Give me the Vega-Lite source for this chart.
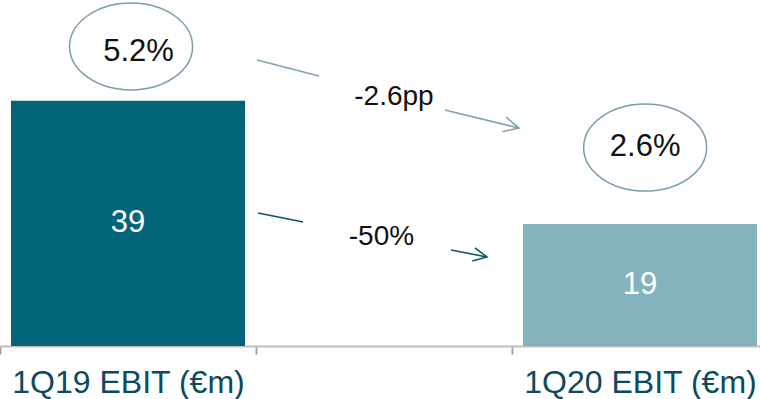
{
  "$schema": "https://vega.github.io/schema/vega-lite/v6.json",
  "width": 768,
  "height": 346,
  "autosize": {"type": "none"},
  "padding": {"left": 0, "top": 0, "right": 0, "bottom": 53},
  "background": "white",
  "config": {"view": {"stroke": null}, "font": "Liberation Sans"},
  "datasets": {
    "bars": [
      {"period": "1Q19 EBIT (€m)", "value": 39},
      {"period": "1Q20 EBIT (€m)", "value": 19.4}
    ],
    "segments": [
      {"arrow": "margin", "part": "start", "xa": 0.504, "ya": 45.46, "xb": 0.746, "yb": 42.92},
      {"arrow": "margin", "part": "end", "xa": 1.238, "ya": 37.51, "xb": 1.527, "yb": 34.65},
      {"arrow": "ebit", "part": "start", "xa": 0.508, "ya": 21.14, "xb": 0.684, "yb": 19.70},
      {"arrow": "ebit", "part": "end", "xa": 1.262, "ya": 15.26, "xb": 1.402, "yb": 14.15}
    ],
    "ellipses": [
      {"name": "1Q19 margin", "x": 0.012, "y": 47.61},
      {"name": "1Q20 margin", "x": 2.02, "y": 31.55}
    ],
    "texts": [
      {"group": "margin", "label": "5.2%", "x": 0.041, "y": 46.8},
      {"group": "margin", "label": "2.6%", "x": 2.02, "y": 31.63},
      {"group": "change", "label": "-2.6pp", "x": 1.039, "y": 39.58},
      {"group": "change", "label": "-50%", "x": 0.99, "y": 17.25}
    ]
  },
  "resolve": {"scale": {"x": "independent", "color": "independent"}},
  "layer": [
    {
      "data": {"name": "bars"},
      "mark": {"type": "bar", "width": {"band": 0.914}},
      "encoding": {
        "x": {
          "field": "period", "type": "nominal", "sort": null,
          "scale": {"domain": ["1Q19 EBIT (€m)", " ", "1Q20 EBIT (€m)"], "paddingInner": 0, "paddingOuter": 0},
          "axis": {
            "title": null, "labelAngle": 0, "labelFontSize": 32, "labelColor": "#0b4b5b",
            "labelFont": "Liberation Sans", "labelBaseline": "alphabetic", "labelPadding": 38,
            "labelLimit": 0, "labelOverlap": false,
            "tickBand": "extent", "tickSize": 8, "tickColor": "#a6a6a6", "tickWidth": 2,
            "domainColor": "#bfbfbf", "domainWidth": 2, "grid": false
          }
        },
        "y": {"field": "value", "type": "quantitative", "scale": {"domain": [0, 55]}, "axis": null},
        "color": {
          "field": "period", "type": "nominal",
          "scale": {"domain": ["1Q19 EBIT (€m)", "1Q20 EBIT (€m)"], "range": ["#03657a", "#84b3be"]},
          "legend": null
        }
      }
    },
    {
      "data": {"name": "bars"},
      "transform": [{"calculate": "datum.value / 2", "as": "mid"}],
      "mark": {"type": "text", "color": "white", "fontSize": 31, "baseline": "middle", "align": "center"},
      "encoding": {
        "x": {
          "field": "period", "type": "nominal", "sort": null,
          "scale": {"domain": ["1Q19 EBIT (€m)", " ", "1Q20 EBIT (€m)"], "paddingInner": 0, "paddingOuter": 0},
          "axis": null
        },
        "y": {"field": "mid", "type": "quantitative", "scale": {"domain": [0, 55]}, "axis": null},
        "text": {"field": "value", "type": "quantitative", "format": ".0f"}
      }
    },
    {
      "data": {"name": "segments"},
      "transform": [{"filter": "datum.arrow == 'margin'"}],
      "mark": {"type": "rule", "strokeWidth": 1.6, "color": "#7fa3ad"},
      "encoding": {
        "x": {"field": "xa", "type": "quantitative", "scale": {"domain": [-0.5, 2.5], "nice": false, "zero": false}, "axis": null},
        "x2": {"field": "xb"},
        "y": {"field": "ya", "type": "quantitative", "scale": {"domain": [0, 55]}, "axis": null},
        "y2": {"field": "yb"}
      }
    },
    {
      "data": {"name": "segments"},
      "transform": [{"filter": "datum.arrow == 'ebit'"}],
      "mark": {"type": "rule", "strokeWidth": 1.6, "color": "#0d5668"},
      "encoding": {
        "x": {"field": "xa", "type": "quantitative", "scale": {"domain": [-0.5, 2.5], "nice": false, "zero": false}, "axis": null},
        "x2": {"field": "xb"},
        "y": {"field": "ya", "type": "quantitative", "scale": {"domain": [0, 55]}, "axis": null},
        "y2": {"field": "yb"}
      }
    },
    {
      "data": {"name": "segments"},
      "transform": [{"filter": "datum.arrow == 'margin' && datum.part == 'end'"}],
      "mark": {"type": "point", "shape": "M-1,-0.5L0,0L-1,0.5", "size": 900, "filled": false, "strokeWidth": 1.6, "angle": 14, "color": "#7fa3ad", "opacity": 1},
      "encoding": {
        "x": {"field": "xb", "type": "quantitative", "scale": {"domain": [-0.5, 2.5], "nice": false, "zero": false}, "axis": null},
        "y": {"field": "yb", "type": "quantitative", "scale": {"domain": [0, 55]}, "axis": null}
      }
    },
    {
      "data": {"name": "segments"},
      "transform": [{"filter": "datum.arrow == 'ebit' && datum.part == 'end'"}],
      "mark": {"type": "point", "shape": "M-1,-0.5L0,0L-1,0.5", "size": 729, "filled": false, "strokeWidth": 1.6, "angle": 11, "color": "#0d5668", "opacity": 1},
      "encoding": {
        "x": {"field": "xb", "type": "quantitative", "scale": {"domain": [-0.5, 2.5], "nice": false, "zero": false}, "axis": null},
        "y": {"field": "yb", "type": "quantitative", "scale": {"domain": [0, 55]}, "axis": null}
      }
    },
    {
      "data": {"name": "ellipses"},
      "mark": {"type": "point", "shape": "M-1,0A1,0.707,0,1,0,1,0A1,0.707,0,1,0,-1,0", "size": 15129, "filled": false, "strokeWidth": 1.5, "color": "#7a9ea8", "opacity": 1},
      "encoding": {
        "x": {"field": "x", "type": "quantitative", "scale": {"domain": [-0.5, 2.5], "nice": false, "zero": false}, "axis": null},
        "y": {"field": "y", "type": "quantitative", "scale": {"domain": [0, 55]}, "axis": null}
      }
    },
    {
      "data": {"name": "texts"},
      "transform": [{"filter": "datum.group == 'margin'"}],
      "mark": {"type": "text", "fontSize": 31, "color": "#111111", "baseline": "middle", "align": "center"},
      "encoding": {
        "x": {"field": "x", "type": "quantitative", "scale": {"domain": [-0.5, 2.5], "nice": false, "zero": false}, "axis": null},
        "y": {"field": "y", "type": "quantitative", "scale": {"domain": [0, 55]}, "axis": null},
        "text": {"field": "label"}
      }
    },
    {
      "data": {"name": "texts"},
      "transform": [{"filter": "datum.group == 'change'"}],
      "mark": {"type": "text", "fontSize": 28, "color": "#111111", "baseline": "middle", "align": "center"},
      "encoding": {
        "x": {"field": "x", "type": "quantitative", "scale": {"domain": [-0.5, 2.5], "nice": false, "zero": false}, "axis": null},
        "y": {"field": "y", "type": "quantitative", "scale": {"domain": [0, 55]}, "axis": null},
        "text": {"field": "label"}
      }
    }
  ]
}
